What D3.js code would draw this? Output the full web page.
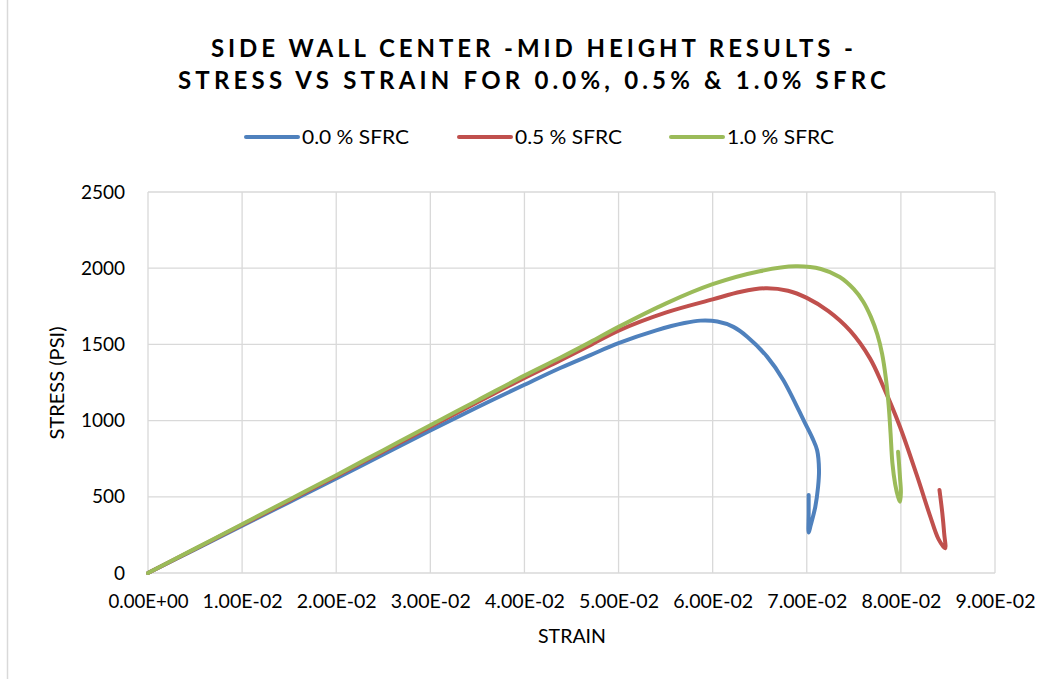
<!DOCTYPE html>
<html>
<head>
<meta charset="utf-8">
<script src="https://cdn.jsdelivr.net/npm/d3@7"></script>
<style>
  html, body { margin: 0; padding: 0; background: #fff; }
  svg { display: block; font-family: Lato, "Open Sans", sans-serif; }
</style>
</head>
<body>
<svg id="chart" width="1049" height="679"></svg>
<script>
// Stress (psi) vs strain, side wall center, mid height
const seriesNames = ["0.0 % SFRC", "0.5 % SFRC", "1.0 % SFRC"];
const seriesColors = ["#4F81BD", "#C0504D", "#9BBB59"];

const sfrc00 = [
  [0, 0], [0.005, 155], [0.01, 310], [0.015, 465], [0.02, 620], [0.025, 778],
  [0.03, 935], [0.035, 1088], [0.04, 1235], [0.0438, 1345], [0.047, 1430],
  [0.05, 1508], [0.054, 1592], [0.057, 1640], [0.0587, 1656], [0.0605, 1650],
  [0.0622, 1615], [0.0637, 1549], [0.0658, 1418], [0.0675, 1267], [0.0698, 985],
  [0.0706, 885], [0.0711, 805], [0.0713, 676], [0.0712, 565], [0.0709, 433],
  [0.0704, 310], [0.0702, 265], [0.0702, 390], [0.0702, 512]
];
const sfrc05 = [
  [0, 0], [0.005, 158], [0.01, 316], [0.015, 475], [0.02, 635], [0.025, 798],
  [0.03, 960], [0.035, 1120], [0.04, 1280], [0.0438, 1395], [0.047, 1495],
  [0.05, 1590], [0.055, 1708], [0.06, 1795], [0.063, 1845], [0.0656, 1868],
  [0.068, 1852], [0.07, 1805], [0.0723, 1718], [0.0746, 1590], [0.0767, 1410],
  [0.0781, 1228], [0.0799, 960], [0.0817, 640], [0.0831, 375], [0.084, 222],
  [0.0847, 162], [0.0846, 260], [0.0844, 394], [0.0841, 545]
];
const sfrc10 = [
  [0, 0], [0.005, 160], [0.01, 320], [0.015, 481], [0.02, 642], [0.025, 806],
  [0.03, 970], [0.035, 1132], [0.04, 1295], [0.0438, 1412], [0.047, 1515],
  [0.05, 1615], [0.055, 1768], [0.06, 1895], [0.065, 1980], [0.0688, 2012],
  [0.0715, 1995], [0.0735, 1942], [0.075, 1862], [0.076, 1780], [0.0768, 1682],
  [0.0775, 1565], [0.078, 1440], [0.0784, 1280], [0.0787, 1100], [0.0789, 920],
  [0.0791, 720], [0.0794, 580], [0.0797, 500], [0.0799, 468], [0.08, 530],
  [0.0799, 630], [0.0798, 720], [0.0797, 795]
];
const allSeries = [sfrc00, sfrc05, sfrc10];

const xTicks = [0, 0.01, 0.02, 0.03, 0.04, 0.05, 0.06, 0.07, 0.08, 0.09];
const yTicks = [0, 500, 1000, 1500, 2000, 2500];

const titleLines = ["SIDE WALL CENTER -MID HEIGHT RESULTS -",
                    "STRESS VS STRAIN FOR 0.0%, 0.5% & 1.0% SFRC"];

const svg = d3.select("#chart");
const plot = { left: 148, right: 995, top: 192, bottom: 573 };

const x = d3.scaleLinear().domain([0, 0.09]).range([plot.left, plot.right]);
const y = d3.scaleLinear().domain([0, 2500]).range([plot.bottom, plot.top]);

// outer chart frame edge
svg.append("line")
  .attr("x1", 7.5).attr("x2", 7.5).attr("y1", 0).attr("y2", 679)
  .attr("stroke", "#d9d9d9").attr("stroke-width", 1.5);

// gridlines
const grid = svg.append("g");
grid.selectAll(".gx").data(xTicks).join("line")
  .attr("x1", d => x(d)).attr("x2", d => x(d))
  .attr("y1", plot.top).attr("y2", plot.bottom)
  .attr("stroke", "#d9d9d9").attr("stroke-width", 1.3);
grid.selectAll(".gy").data(yTicks).join("line")
  .attr("x1", plot.left).attr("x2", plot.right)
  .attr("y1", d => y(d)).attr("y2", d => y(d))
  .attr("stroke", "#d9d9d9").attr("stroke-width", 1.3);

// axes (labels only)
const fmtSci = d => {
  if (d === 0) return "0.00E+00";
  const e = Math.floor(Math.log10(Math.abs(d)) + 1e-9);
  const m = d / Math.pow(10, e);
  const es = (e < 0 ? "-" : "+") + String(Math.abs(e)).padStart(2, "0");
  return m.toFixed(2) + "E" + es;
};

const xAxis = svg.append("g")
  .attr("transform", `translate(0,${plot.bottom})`)
  .call(d3.axisBottom(x).tickValues(xTicks).tickFormat(fmtSci).tickSize(0).tickPadding(22));
const yAxis = svg.append("g")
  .attr("transform", `translate(${plot.left},0)`)
  .call(d3.axisLeft(y).tickValues(yTicks).tickFormat(d3.format("d")).tickSize(0).tickPadding(23));
[xAxis, yAxis].forEach(a => {
  a.select(".domain").remove();
  a.selectAll("text").attr("font-family", "Lato, sans-serif")
    .attr("font-size", 19).attr("fill", "#000");
});
xAxis.selectAll("text").attr("textLength", 80).attr("lengthAdjust", "spacingAndGlyphs");

// axis titles
svg.append("text").attr("x", 572).attr("y", 643).attr("text-anchor", "middle")
  .attr("font-size", 19).attr("fill", "#000")
  .attr("textLength", 68).attr("lengthAdjust", "spacingAndGlyphs")
  .text("STRAIN");
svg.append("text")
  .attr("transform", "translate(64,383) rotate(-90)")
  .attr("text-anchor", "middle").attr("font-size", 19).attr("fill", "#000")
  .attr("textLength", 113).attr("lengthAdjust", "spacingAndGlyphs")
  .text("STRESS (PSI)");

// title
svg.selectAll(".title").data(titleLines).join("text")
  .attr("x", 532).attr("y", (d, i) => 57 + i * 32)
  .attr("text-anchor", "middle")
  .attr("font-family", "Lato, sans-serif")
  .attr("font-weight", "bold").attr("font-size", 24).attr("fill", "#000")
  .attr("textLength", (d, i) => i === 0 ? 642 : 708)
  .attr("lengthAdjust", "spacing")
  .text(d => d);

// series lines
const line = d3.line().x(d => x(d[0])).y(d => y(d[1])).curve(d3.curveCatmullRom.alpha(0.5));
svg.append("g").selectAll("path").data(allSeries).join("path")
  .attr("d", line)
  .attr("fill", "none")
  .attr("stroke", (d, i) => seriesColors[i])
  .attr("stroke-width", 4)
  .attr("stroke-linecap", "round")
  .attr("stroke-linejoin", "round");

// legend
const legendX = [246, 459, 671];
const leg = svg.append("g").selectAll("g").data(seriesNames).join("g")
  .attr("transform", (d, i) => `translate(${legendX[i]},137)`);
leg.append("line").attr("x1", 0).attr("x2", 52).attr("y1", 0).attr("y2", 0)
  .attr("stroke", (d, i) => seriesColors[i]).attr("stroke-width", 4)
  .attr("stroke-linecap", "round");
leg.append("text").attr("x", 56).attr("y", 7)
  .attr("font-size", 19).attr("fill", "#000")
  .attr("textLength", 107).attr("lengthAdjust", "spacingAndGlyphs")
  .text(d => d);
</script>
</body>
</html>
